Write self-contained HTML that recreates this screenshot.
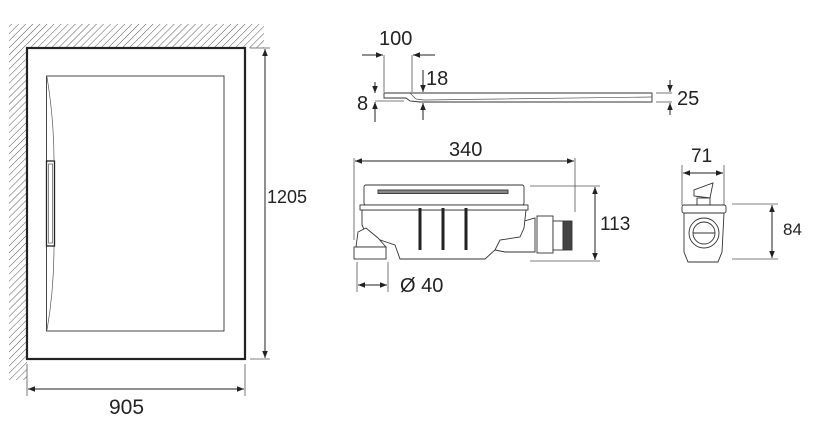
<!DOCTYPE html>
<html><head><meta charset="utf-8"><style>
html,body{margin:0;padding:0;background:#fff;width:825px;height:425px;overflow:hidden}
svg{display:block}
text{font-family:"Liberation Sans",Arial,sans-serif;fill:#222}
</style></head><body>
<svg width="825" height="425" viewBox="0 0 825 425" xmlns="http://www.w3.org/2000/svg">
<defs>
<pattern id="h" width="5" height="5" patternUnits="userSpaceOnUse" patternTransform="rotate(45)">
<line x1="0" y1="0" x2="0" y2="5" stroke="#555" stroke-width="1"/>
</pattern>
<marker id="a" viewBox="0 0 10 10" refX="10" refY="5" markerWidth="7" markerHeight="7" orient="auto-start-reverse">
<path d="M0,1 L10,5 L0,9 z" fill="#222"/>
</marker>
</defs>
<path d="M9,24 H264 V48 H27 V380 H9 Z" fill="url(#h)"/>
<rect x="27" y="48" width="218" height="311" fill="#fff" stroke="#222" stroke-width="2.2"/>
<rect x="46.5" y="76" width="177.5" height="255" fill="none" stroke="#333" stroke-width="0.9"/>
<path d="M47,77 Q54,120 54,160 M54,246 Q54,290 47,330" fill="none" stroke="#555" stroke-width="0.7"/>
<rect x="46.5" y="161" width="8" height="85" fill="#fff" stroke="#222" stroke-width="1.3"/>
<rect x="48.5" y="164" width="4" height="79" fill="none" stroke="#555" stroke-width="0.7"/>
<line x1="250" y1="48" x2="270" y2="48" stroke="#555" stroke-width="0.8"/>
<line x1="250" y1="359" x2="270" y2="359" stroke="#555" stroke-width="0.8"/>
<line x1="265" y1="49" x2="265" y2="358" stroke="#222" stroke-width="1" marker-start="url(#a)" marker-end="url(#a)"/>
<text x="267" y="203" font-size="18">1205</text>
<line x1="27" y1="364" x2="27" y2="396" stroke="#555" stroke-width="0.8"/>
<line x1="245" y1="364" x2="245" y2="396" stroke="#555" stroke-width="0.8"/>
<line x1="28" y1="389" x2="244" y2="389" stroke="#222" stroke-width="1" marker-start="url(#a)" marker-end="url(#a)"/>
<text x="109" y="414" font-size="21">905</text>

<path d="M384,93 L652,93 L652,102 L420,102 L410,101 L406,98 L384,98 Z" fill="#fff" stroke="#333" stroke-width="0.9"/>
<path d="M410,93 L416,99 L424,100 L652,97" fill="none" stroke="#555" stroke-width="0.7"/>
<line x1="375" y1="101" x2="404" y2="101" stroke="#555" stroke-width="0.8"/>
<line x1="384" y1="55" x2="384" y2="92" stroke="#555" stroke-width="0.8"/>
<line x1="412" y1="55" x2="412" y2="92" stroke="#555" stroke-width="0.8"/>
<line x1="362" y1="55" x2="383" y2="55" stroke="#222" stroke-width="1" marker-end="url(#a)"/>
<line x1="435" y1="55" x2="413" y2="55" stroke="#222" stroke-width="1" marker-end="url(#a)"/>
<text x="379" y="45" font-size="20">100</text>
<line x1="423" y1="70" x2="423" y2="92" stroke="#222" stroke-width="1" marker-end="url(#a)"/>
<line x1="423" y1="120" x2="423" y2="103" stroke="#222" stroke-width="1" marker-end="url(#a)"/>
<text x="426" y="85" font-size="20">18</text>
<line x1="375" y1="82" x2="375" y2="93" stroke="#222" stroke-width="1" marker-end="url(#a)"/>
<line x1="375" y1="122" x2="375" y2="102" stroke="#222" stroke-width="1" marker-end="url(#a)"/>
<text x="357" y="110" font-size="20">8</text>
<line x1="656" y1="93" x2="672" y2="93" stroke="#555" stroke-width="0.8"/>
<line x1="656" y1="102" x2="672" y2="102" stroke="#555" stroke-width="0.8"/>
<line x1="670" y1="80" x2="670" y2="92" stroke="#222" stroke-width="1" marker-end="url(#a)"/>
<line x1="670" y1="115" x2="670" y2="103" stroke="#222" stroke-width="1" marker-end="url(#a)"/>
<text x="677" y="105" font-size="20">25</text>

<line x1="354" y1="158" x2="354" y2="240" stroke="#555" stroke-width="0.8"/>
<line x1="575" y1="158" x2="575" y2="212" stroke="#555" stroke-width="0.8"/>
<line x1="355" y1="161" x2="574" y2="161" stroke="#222" stroke-width="1" marker-start="url(#a)" marker-end="url(#a)"/>
<text x="449" y="156" font-size="20">340</text>
<g fill="#fff" stroke="#333" stroke-width="0.9">
<path d="M500,228 L535,218 L535,252 L505,252 L495,250 Z"/>
<path d="M362,210 L526,210 L524,228 L520,237 L500,240 L495,250 L485,259 L400,259 L395,245 L380,240 L368,238 L362,225 Z"/>
<rect x="364" y="185" width="160" height="20" rx="2"/>
<rect x="378" y="190" width="130" height="3.5" fill="#888"/>
<rect x="360" y="205" width="168" height="5"/>
<rect x="537" y="216" width="16" height="37"/>
<rect x="553" y="221" width="10" height="29"/>
<rect x="563" y="221" width="9" height="29" fill="#444"/>
<path d="M356,247 L358,232 L366,228 L378,238 L386,247 Z"/>
<rect x="354" y="247" width="32" height="12"/>
</g>
<g stroke="#222" stroke-width="3">
<line x1="420" y1="208" x2="420" y2="250"/><line x1="443" y1="208" x2="443" y2="250"/><line x1="466" y1="208" x2="466" y2="250"/>
</g>
<line x1="530" y1="186" x2="600" y2="186" stroke="#555" stroke-width="0.8"/>
<line x1="530" y1="261" x2="600" y2="261" stroke="#555" stroke-width="0.8"/>
<line x1="595" y1="187" x2="595" y2="260" stroke="#222" stroke-width="1" marker-start="url(#a)" marker-end="url(#a)"/>
<text x="600" y="230" font-size="19">113</text>
<line x1="357" y1="262" x2="357" y2="292" stroke="#555" stroke-width="0.8"/>
<line x1="388" y1="262" x2="388" y2="292" stroke="#555" stroke-width="0.8"/>
<line x1="358" y1="285" x2="387" y2="285" stroke="#222" stroke-width="1" marker-start="url(#a)" marker-end="url(#a)"/>
<text x="400" y="292" font-size="20">Ø 40</text>

<line x1="682" y1="165" x2="682" y2="205" stroke="#555" stroke-width="0.8"/>
<line x1="724" y1="165" x2="724" y2="205" stroke="#555" stroke-width="0.8"/>
<line x1="683" y1="173" x2="723" y2="173" stroke="#222" stroke-width="1" marker-start="url(#a)" marker-end="url(#a)"/>
<text x="691" y="162" font-size="19">71</text>
<g fill="#fff" stroke="#333" stroke-width="0.9">
<path d="M694,196 L694,190 L713,183 L710,198 Z"/>
<rect x="697" y="198" width="13" height="8"/>
<rect x="682" y="205" width="44" height="8" rx="2"/>
<path d="M684,213 L724,213 L722,252 L718,262 L688,262 L684,252 Z"/>
<circle cx="704" cy="233" r="15"/>
<circle cx="704" cy="233" r="11"/>
<line x1="693" y1="233" x2="715" y2="233"/>
</g>
<line x1="732" y1="204" x2="778" y2="204" stroke="#555" stroke-width="0.8"/>
<line x1="732" y1="259" x2="778" y2="259" stroke="#555" stroke-width="0.8"/>
<line x1="772" y1="205" x2="772" y2="258" stroke="#222" stroke-width="1" marker-start="url(#a)" marker-end="url(#a)"/>
<text x="783" y="235" font-size="17">84</text>
</svg>
</body></html>
